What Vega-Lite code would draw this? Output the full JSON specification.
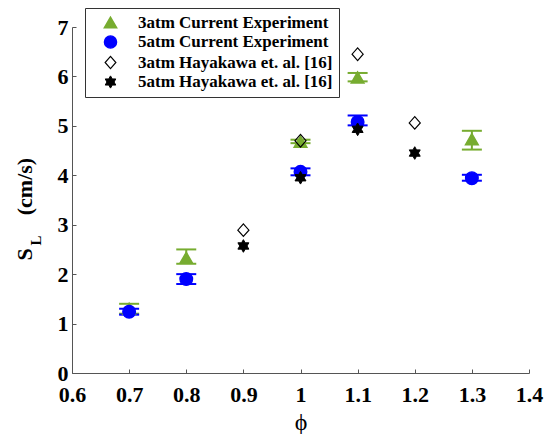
{
  "$schema": "https://vega.github.io/schema/vega-lite/v6.json",
  "width": 457,
  "height": 346,
  "autosize": "none",
  "padding": {"left": 72, "top": 27, "right": 21, "bottom": 61},
  "background": "white",
  "config": {"view": {"stroke": null}, "font": "Liberation Serif", "axis": {"labelFont": "Liberation Serif", "titleFont": "Liberation Serif"}, "legend": {"labelFont": "Liberation Serif"}},
  "data": {
    "values": [
      {"phi": 0.7, "SL": 1.30, "lo": 1.20, "hi": 1.40, "series": "3atm Current Experiment"},
      {"phi": 0.8, "SL": 2.33, "lo": 2.21, "hi": 2.50, "series": "3atm Current Experiment"},
      {"phi": 1.0, "SL": 4.68, "lo": 4.65, "hi": 4.72, "series": "3atm Current Experiment"},
      {"phi": 1.1, "SL": 5.98, "lo": 5.90, "hi": 6.07, "series": "3atm Current Experiment"},
      {"phi": 1.3, "SL": 4.73, "lo": 4.52, "hi": 4.90, "series": "3atm Current Experiment"},
      {"phi": 0.7, "SL": 1.24, "lo": 1.18, "hi": 1.30, "series": "5atm Current Experiment"},
      {"phi": 0.8, "SL": 1.90, "lo": 1.80, "hi": 2.00, "series": "5atm Current Experiment"},
      {"phi": 1.0, "SL": 4.07, "lo": 4.00, "hi": 4.14, "series": "5atm Current Experiment"},
      {"phi": 1.1, "SL": 5.08, "lo": 5.01, "hi": 5.21, "series": "5atm Current Experiment"},
      {"phi": 1.3, "SL": 3.94, "lo": 3.89, "hi": 4.01, "series": "5atm Current Experiment"},
      {"phi": 0.9, "SL": 2.89, "series": "3atm Hayakawa et. al. [16]"},
      {"phi": 1.0, "SL": 4.70, "series": "3atm Hayakawa et. al. [16]"},
      {"phi": 1.1, "SL": 6.45, "series": "3atm Hayakawa et. al. [16]"},
      {"phi": 1.2, "SL": 5.06, "series": "3atm Hayakawa et. al. [16]"},
      {"phi": 0.9, "SL": 2.57, "series": "5atm Hayakawa et. al. [16]"},
      {"phi": 1.0, "SL": 3.95, "series": "5atm Hayakawa et. al. [16]"},
      {"phi": 1.1, "SL": 4.93, "series": "5atm Hayakawa et. al. [16]"},
      {"phi": 1.2, "SL": 4.45, "series": "5atm Hayakawa et. al. [16]"}
    ]
  },
  "resolve": {"axis": {"y": "independent"}},
  "encoding": {
    "x": {
      "field": "phi",
      "type": "quantitative",
      "scale": {"domain": [0.6, 1.4], "nice": false, "zero": false},
      "axis": {
        "values": [0.6, 0.7, 0.8, 0.9, 1.0, 1.1, 1.2, 1.3, 1.4],
        "format": "~g",
        "title": "ϕ",
        "titleFontSize": 24,
        "titleFontWeight": "normal",
        "titleColor": "black",
        "titlePadding": 5,
        "labelFont": "Liberation Serif",
        "labelFontSize": 22,
        "labelFontWeight": "bold",
        "labelColor": "black",
        "labelPadding": 15,
        "labelFlush": false,
        "tickSize": -4,
        "tickColor": "#555",
        "domainColor": "#555",
        "grid": false
      }
    }
  },
  "layer": [
    {
      "transform": [{"filter": "isValid(datum.lo)"}],
      "mark": {"type": "rule", "strokeWidth": 2},
      "encoding": {
        "y": {
          "field": "lo",
          "type": "quantitative",
          "scale": {"domain": [0, 7], "nice": false},
          "axis": {
            "orient": "left",
            "title": "L",
            "domain": false,
            "ticks": false,
            "labels": false,
            "grid": false,
            "titleAngle": 270,
            "titleAlign": "left",
            "titleBaseline": "alphabetic",
            "titleX": -32,
            "titleY": 218,
            "titleFontSize": 15,
            "titleFontWeight": "bold",
            "titleFont": "Liberation Serif",
            "titleColor": "black"
          }
        },
        "y2": {"field": "hi"},
        "color": {
          "field": "series",
          "type": "nominal",
          "legend": null,
          "scale": {"domain": ["3atm Current Experiment", "5atm Current Experiment"], "range": ["#77AC30", "#0000FF"]}
        }
      }
    },
    {
      "transform": [{"filter": "isValid(datum.lo)"}],
      "mark": {"type": "point", "shape": "stroke", "size": 400, "strokeWidth": 2, "filled": false, "opacity": 1},
      "encoding": {
        "y": {"field": "lo", "type": "quantitative", "scale": {"domain": [0, 7], "nice": false}, "axis": null},
        "color": {"field": "series", "type": "nominal", "legend": null}
      }
    },
    {
      "transform": [{"filter": "isValid(datum.lo)"}],
      "mark": {"type": "point", "shape": "stroke", "size": 400, "strokeWidth": 2, "filled": false, "opacity": 1},
      "encoding": {
        "y": {"field": "hi", "type": "quantitative", "scale": {"domain": [0, 7], "nice": false}, "axis": null},
        "color": {"field": "series", "type": "nominal", "legend": null}
      }
    },
    {
      "mark": {"type": "point", "size": 160, "opacity": 1},
      "encoding": {
        "y": {
          "field": "SL",
          "type": "quantitative",
          "scale": {"domain": [0, 7], "nice": false},
          "axis": {
            "orient": "left",
            "values": [0, 1, 2, 3, 4, 5, 6, 7],
            "format": "d",
            "title": "S\u2003\u2002(cm/s)",
            "titleAngle": 270,
            "titleAlign": "left",
            "titleBaseline": "alphabetic",
            "titleX": -41,
            "titleY": 233,
            "titleFont": "Liberation Serif",
            "titleFontSize": 22,
            "titleFontWeight": "bold",
            "titleColor": "black",
            "labelFont": "Liberation Serif",
            "labelFontSize": 22,
            "labelFontWeight": "bold",
            "labelColor": "black",
            "labelPadding": 8,
            "labelBaseline": "top",
            "labelOffset": -10,
            "tickSize": -4,
            "tickColor": "#555",
            "domainColor": "#555",
            "grid": false
          }
        },
        "shape": {
          "field": "series",
          "type": "nominal",
          "scale": {
            "domain": ["3atm Current Experiment", "5atm Current Experiment", "3atm Hayakawa et. al. [16]", "5atm Hayakawa et. al. [16]"],
            "range": ["triangle-up", "circle", "M0,-1L0.88,0L0,1L-0.88,0Z", "M0,-1L0.289,-0.5L0.866,-0.5L0.577,0L0.866,0.5L0.289,0.5L0,1L-0.289,0.5L-0.866,0.5L-0.577,0L-0.866,-0.5L-0.289,-0.5Z"]
          },
          "legend": {
            "title": null,
            "orient": "none",
            "legendX": 13,
            "legendY": -19,
            "direction": "vertical",
            "strokeColor": "#333",
            "fillColor": "white",
            "padding": 6,
            "symbolOffset": 11,
            "symbolSize": 150,
            "labelOffset": 19,
            "labelFont": "Liberation Serif",
            "labelFontSize": 17,
            "labelFontWeight": "bold",
            "labelColor": "black",
            "labelLimit": 400,
            "rowPadding": 1.5
          }
        },
        "fill": {
          "field": "series",
          "type": "nominal",
          "scale": {
            "domain": ["3atm Current Experiment", "5atm Current Experiment", "3atm Hayakawa et. al. [16]", "5atm Hayakawa et. al. [16]"],
            "range": ["#77AC30", "#0000FF", "transparent", "black"]
          }
        },
        "stroke": {
          "field": "series",
          "type": "nominal",
          "scale": {
            "domain": ["3atm Current Experiment", "5atm Current Experiment", "3atm Hayakawa et. al. [16]", "5atm Hayakawa et. al. [16]"],
            "range": ["#77AC30", "#0000FF", "black", "black"]
          }
        },
        "strokeWidth": {
          "field": "series",
          "type": "nominal",
          "scale": {
            "domain": ["3atm Current Experiment", "5atm Current Experiment", "3atm Hayakawa et. al. [16]", "5atm Hayakawa et. al. [16]"],
            "range": [1.5, 1, 2.6, 1.5]
          }
        }
      }
    }
  ]
}
